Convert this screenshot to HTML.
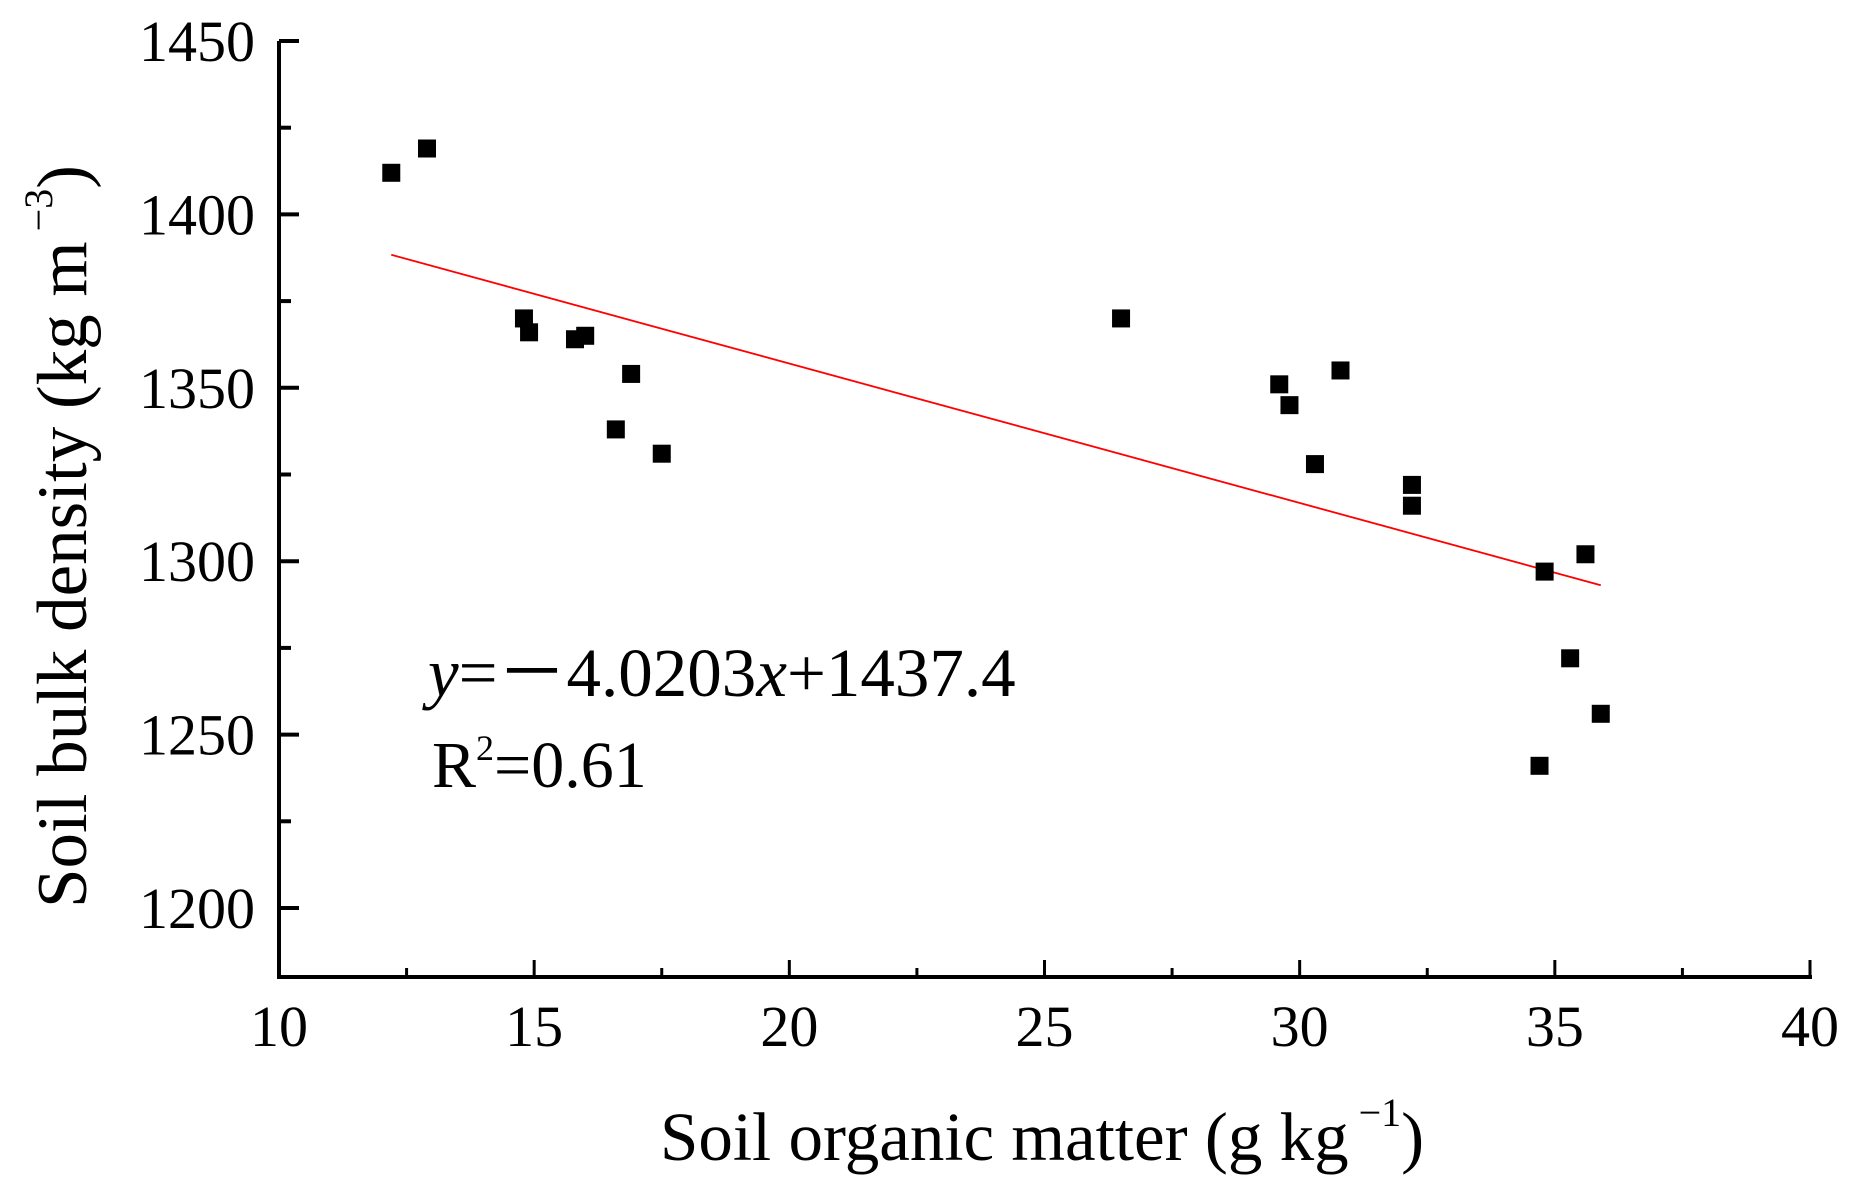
<!DOCTYPE html>
<html><head><meta charset="utf-8"><style>
html,body{margin:0;padding:0;background:#fff;}
svg{display:block;font-family:"Liberation Serif",serif;}
</style></head><body>
<svg id="chart" width="1849" height="1185" viewBox="0 0 1849 1185" xmlns="http://www.w3.org/2000/svg">
<g id="axes"></g>
<g id="marks"></g>
<text x="428" y="696" font-size="69"><tspan font-style="italic">y</tspan>=－4.0203<tspan font-style="italic">x</tspan>+1437.4</text>
<text x="432" y="787" font-size="66">R<tspan font-size="36" dy="-27">2</tspan><tspan dy="27">=0.61</tspan></text>
<text x="660" y="1160" font-size="69">Soil organic matter (g kg<tspan font-size="40" dy="-34"> −1</tspan><tspan dy="34">)</tspan></text>
<text transform="translate(86,908) rotate(-90)" x="0" y="0" font-size="71">Soil bulk density (kg m<tspan font-size="40" dy="-34"> −3</tspan><tspan dy="34">)</tspan></text>
</svg>
<script>
const xVals=[12.2,12.9,14.8,14.9,15.8,16.0,16.9,16.6,17.5,26.5,29.6,29.8,30.8,30.3,32.2,32.2,34.8,35.6,35.3,35.9,34.7];
const yVals=[1412,1419,1370,1366,1364,1365,1354,1338,1331,1370,1351,1345,1355,1328,1322,1316,1297,1302,1272,1256,1241];
const fitSlope=-4.0203;
const fitIntercept=1437.4;
const fitRange=[12.2,35.9];
const xTicks=[10,15,20,25,30,35,40];
const yTicks=[1200,1250,1300,1350,1400,1450];

const NS="http://www.w3.org/2000/svg";
const X0=279,X1=1810,Y0=908,Y1=41;
function sx(v){return X0+(v-10)/30*(X1-X0);}
function sy(v){return Y0-(v-1200)/250*(Y0-Y1);}
function mk(tag,attrs,parent){const e=document.createElementNS(NS,tag);for(const k in attrs)e.setAttribute(k,attrs[k]);parent.appendChild(e);return e;}
const axes=document.getElementById('axes'),marks=document.getElementById('marks');
const bottom=977;
let l=mk('line',{x1:X0,y1:Y1,x2:X0,y2:bottom+2,stroke:'#000','stroke-width':4},axes);


l=mk('line',{x1:X0-2,y1:bottom,x2:X1+2,y2:bottom,stroke:'#000','stroke-width':4},axes);


yTicks.forEach((v,i)=>{
  const t=mk('line',{x1:X0,y1:sy(v),x2:X0+20,y2:sy(v),stroke:'#000','stroke-width':4},axes);
  
  
  if(i<yTicks.length-1){const m=mk('line',{x1:X0,y1:sy(v+25),x2:X0+12,y2:sy(v+25),stroke:'#000','stroke-width':4},axes);
  
  }
  const tx=mk('text',{x:255,y:sy(v)+20,'text-anchor':'end','font-size':58},axes);tx.textContent=v;
  
  
});
xTicks.forEach((v,i)=>{
  const t=mk('line',{x1:sx(v),y1:bottom,x2:sx(v),y2:bottom-17,stroke:'#000','stroke-width':3},axes);
  
  
  if(i<xTicks.length-1){const m=mk('line',{x1:sx(v+2.5),y1:bottom,x2:sx(v+2.5),y2:bottom-9,stroke:'#000','stroke-width':3},axes);
  
  }
  const tx=mk('text',{x:sx(v),y:1046,'text-anchor':'middle','font-size':58},axes);tx.textContent=v;
  
  
});
const fl=mk('line',{x1:sx(fitRange[0]),y1:sy(fitSlope*fitRange[0]+fitIntercept),x2:sx(fitRange[1]),y2:sy(fitSlope*fitRange[1]+fitIntercept),stroke:'#ff0000','stroke-width':1.8},marks);


xVals.forEach((x,i)=>{
  const r=mk('rect',{x:sx(x)-9,y:sy(yVals[i])-9,width:18,height:18,fill:'#000'},marks);
  
  
});
</script>
</body></html>
